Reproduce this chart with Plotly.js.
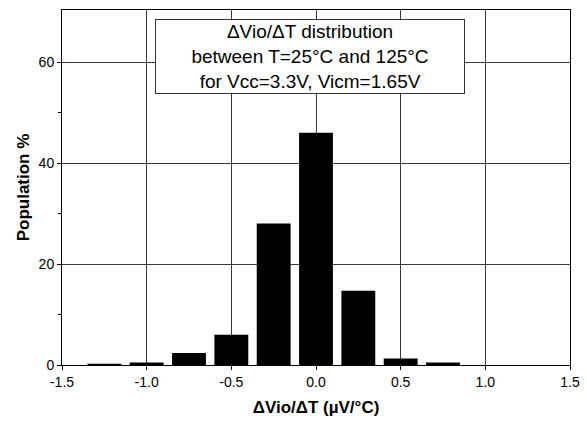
<!DOCTYPE html>
<html>
<head>
<meta charset="utf-8">
<script src="https://cdn.plot.ly/plotly-3.0.1.min.js"></script>
<style>html,body{margin:0;padding:0;background:#fff;}#chart{width:587px;height:421px;}</style>
</head>
<body>
<div id="chart"></div>
<script>
// Bin centres (µV/°C) and population percentages
const binCenters = [-1.25, -1.0, -0.75, -0.5, -0.25, 0.0, 0.25, 0.5, 0.75];
const populationPct = [0.25, 0.5, 2.4, 6.0, 28.0, 46.0, 14.7, 1.3, 0.5];
const xTickVals = [-1.5, -1.0, -0.5, 0.0, 0.5, 1.0, 1.5];
const xTickText = ["-1.5", "-1.0", "-0.5", "0.0", "0.5", "1.0", "1.5"];
const yTickVals = [0, 20, 40, 60];
const boxLines = ["ΔVio/ΔT distribution", "between T=25°C and 125°C", "for Vcc=3.3V, Vicm=1.65V"];

const font = "Liberation Sans, Arial, sans-serif";

Plotly.newPlot("chart", [{
  type: "bar",
  x: binCenters,
  y: populationPct,
  width: 0.2,
  marker: {color: "#000000", line: {width: 0}},
  hoverinfo: "skip"
}], {
  width: 587, height: 421,
  margin: {l: 62, r: 17, t: 10, b: 56, pad: 0},
  paper_bgcolor: "#ffffff",
  plot_bgcolor: "#ffffff",
  showlegend: false,
  font: {family: font, size: 14, color: "#000"},
  xaxis: {
    range: [-1.5, 1.5],
    tickvals: xTickVals,
    ticktext: xTickText,
    ticks: "outside", ticklen: 4, tickcolor: "#000",
    showline: true, linecolor: "#000", linewidth: 1, mirror: true,
    showgrid: true, gridcolor: "#3a3a3a", gridwidth: 1,
    zeroline: false,
    tickfont: {family: font, size: 14},
    title: {text: "<b>ΔVio/ΔT (µV/°C)</b>", font: {family: font, size: 17}, standoff: 12}
  },
  yaxis: {
    range: [0, 70.3],
    tickvals: yTickVals,
    ticks: "outside", ticklen: 4, tickcolor: "#000",
    minor: {tickvals: [10, 30, 50], ticks: "outside", ticklen: 3, tickcolor: "#000", showgrid: false},
    showline: true, linecolor: "#000", linewidth: 1, mirror: true,
    showgrid: true, gridcolor: "#3a3a3a", gridwidth: 1,
    zeroline: false,
    tickfont: {family: font, size: 14},
    title: {text: "<b>Population %</b>", font: {family: font, size: 17}, standoff: 4}
  },
  annotations: [{
    xref: "paper", yref: "paper",
    x: 0.488, y: 0.870,
    xanchor: "center", yanchor: "middle",
    text: boxLines.join("<br>"),
    showarrow: false,
    align: "center",
    font: {family: font, size: 19, color: "#000"},
    bgcolor: "#ffffff",
    bordercolor: "#333",
    borderwidth: 1,
    width: 306, height: 71
  }]
}, {displayModeBar: false, staticPlot: true});
</script>
</body>
</html>
